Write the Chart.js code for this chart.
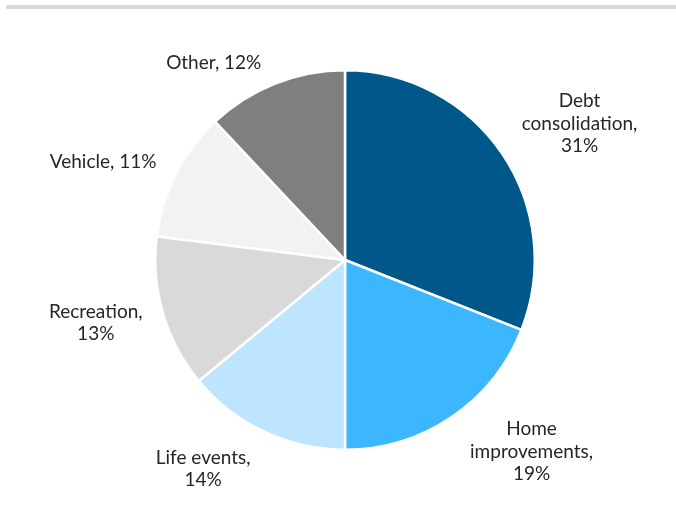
<!DOCTYPE html>
<html>
<head>
<meta charset="utf-8">
<script src="https://cdn.jsdelivr.net/npm/chart.js"></script>
<style>
  html, body { margin: 0; padding: 0; background: #ffffff; }
  #wrap { position: relative; width: 676px; height: 505px; }
  #rule { position: absolute; left: 6px; right: 0; top: 5px; height: 4px; background: #d9d9d9; }
</style>
</head>
<body>
<div id="wrap">
  <div id="rule"></div>
  <canvas id="pie" width="676" height="505"></canvas>
</div>
<script>
// Loan purpose shares (%)
const purposes = [
  ['Debt', 'consolidation,'],
  ['Home', 'improvements,'],
  ['Life events,'],
  ['Recreation,'],
  ['Vehicle,'],
  ['Other,']
];
const shares = [31, 19, 14, 13, 11, 12];
const sliceColors = ['#00578a', '#3cb7ff', '#bde5ff', '#d9d9d9', '#f2f2f2', '#7f7f7f'];

// label placement: angle nudge (deg) from slice middle, distance as multiple of radius
const labelNudge = [4, -10, 9, 2, -5, -12];
const labelDist = [1.43, 1.41, 1.33, 1.355, 1.375, 1.25];

const outsideLabels = {
  id: 'outsideLabels',
  afterDatasetsDraw(chart) {
    const ctx = chart.ctx;
    const meta = chart.getDatasetMeta(0);
    ctx.save();
    ctx.font = '19px Lato';
    ctx.fillStyle = '#262626';
    ctx.textAlign = 'center';
    ctx.textBaseline = 'middle';
    meta.data.forEach((arc, i) => {
      const mid = (arc.startAngle + arc.endAngle) / 2 + labelNudge[i] * Math.PI / 180;
      const r = arc.outerRadius * labelDist[i];
      const cx = arc.x + Math.cos(mid) * r;
      const cy = arc.y + Math.sin(mid) * r;
      const lines = purposes[i].slice();
      const pct = shares[i] + '%';
      if (lines.length === 1 && (i === 4 || i === 5)) {
        lines[0] = lines[0] + ' ' + pct;
      } else {
        lines.push(pct);
      }
      const lh = 22.5;
      const top = cy - (lines.length - 1) * lh / 2;
      lines.forEach((t, k) => ctx.fillText(t, cx, top + k * lh));
    });
    ctx.restore();
  }
};

new Chart(document.getElementById('pie'), {
  type: 'pie',
  data: {
    labels: purposes.map(p => p.join(' ')),
    datasets: [{
      data: shares,
      backgroundColor: sliceColors,
      borderColor: '#ffffff',
      borderWidth: 2.5
    }]
  },
  options: {
    responsive: false,
    animation: false,
    layout: { padding: { left: 154, top: 69, right: 140, bottom: 54 } },
    plugins: {
      legend: { display: false },
      tooltip: { enabled: false }
    }
  },
  plugins: [outsideLabels]
});
</script>
</body>
</html>
